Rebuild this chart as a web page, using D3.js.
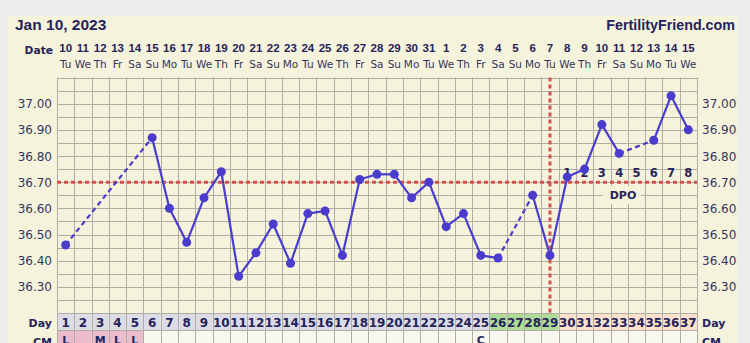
<!DOCTYPE html>
<html><head><meta charset="utf-8">
<script src="https://cdn.jsdelivr.net/npm/d3@7"></script>
<style>html,body{margin:0;padding:0;background:#ececec;}svg{display:block;}</style>
</head><body>
<svg id="c" width="750" height="343"></svg>
<script>
const cycleDays = d3.range(1, 38);
const dateLabels = ["10","11","12","13","14","15","16","17","18","19","20","21","22","23","24","25","26","27","28","29","30","31","1","2","3","4","5","6","7","8","9","10","11","12","13","14","15"];
const weekdayLabels = ["Tu","We","Th","Fr","Sa","Su","Mo","Tu","We","Th","Fr","Sa","Su","Mo","Tu","We","Th","Fr","Sa","Su","Mo","Tu","We","Th","Fr","Sa","Su","Mo","Tu","We","Th","Fr","Sa","Su","Mo","Tu","We"];
const temps = [36.46,null,null,null,null,36.87,36.60,36.47,36.64,36.74,36.34,36.43,36.54,36.39,36.58,36.59,36.42,36.71,36.73,36.73,36.64,36.70,36.53,36.58,36.42,36.41,null,36.65,36.42,36.72,36.75,36.92,36.81,null,36.86,37.03,36.90];
const phase = [].concat(d3.range(25).map(()=>"pre"), ["fert","fert","fert","fert"], d3.range(8).map(()=>"post"));
const cmLabels = ["L","","M","L","L","","","","","","","","","","","","","","","","","","","","C","","","","","","","","","","","",""];
const cmPink = [1,1,1,1,1];
const yTicks = [36.30,36.40,36.50,36.60,36.70,36.80,36.90,37.00];
const coverline = 36.70;
const ovulationDay = 29;
const dpoLabels = ["1","2","3","4","5","6","7","8"];
const titleText = "Jan 10, 2023";
const siteText = "FertilityFriend.com";

const svg = d3.select("#c");
const gridL = 57, gridR = 697, gridT = 77.5, gridB = 313;
const x = d3.scaleBand().domain(cycleDays).range([gridL, gridR]).padding(0);
const xc = d => x(d) + x.bandwidth()/2;
const y = d3.scaleLinear().domain([36.2, 37.1]).range([gridB, gridT]);
const navy = "#25235a";

// panel
svg.append("rect").attr("x",8).attr("y",16).attr("width",729).attr("height",340).attr("fill","#f6f3dc");

svg.append("text").attr("x",15).attr("y",30).text(titleText)
  .attr("font-family","Liberation Sans, Arial").attr("font-weight","bold").attr("font-size",15.5).attr("fill",navy);
svg.append("text").attr("x",735).attr("y",30).attr("text-anchor","end").text(siteText)
  .attr("font-family","Liberation Sans, Arial").attr("font-weight","bold").attr("font-size",14.3).attr("fill",navy);

svg.append("text").attr("x",53).attr("y",54).attr("text-anchor","end").text("Date")
  .attr("font-family","DejaVu Sans").attr("font-weight","bold").attr("font-size",10.7).attr("fill",navy);
svg.selectAll(".dl").data(cycleDays).enter().append("text")
  .attr("x",d=>xc(d)).attr("y",51.5).attr("text-anchor","middle").text((d,i)=>dateLabels[i])
  .attr("font-family","Liberation Sans, Arial").attr("font-weight","bold").attr("font-size",11.5).attr("fill",navy);
svg.selectAll(".wl").data(cycleDays).enter().append("text")
  .attr("x",d=>xc(d)).attr("y",68).attr("text-anchor","middle").text((d,i)=>weekdayLabels[i])
  .attr("font-family","DejaVu Sans").attr("font-size",10.5).attr("fill","#33335e");

// grid
const g = svg.append("g");
const hLines = d3.range(0, 19).map(i => 36.2 + i*0.05);
g.selectAll(".hl").data(hLines).enter().append("line")
  .attr("x1",gridL).attr("x2",gridR).attr("y1",d=>Math.round(y(d))+0.5).attr("y2",d=>Math.round(y(d))+0.5)
  .attr("stroke","#b0aea4").attr("stroke-width",1);
g.selectAll(".vl").data(cycleDays.concat([38])).enter().append("line")
  .attr("x1",d=>Math.round(d<=37? x(d): gridR)+0.5).attr("x2",d=>Math.round(d<=37? x(d): gridR)+0.5)
  .attr("y1",gridT).attr("y2",gridB+34)
  .attr("stroke","#b0aea4").attr("stroke-width",1);

// y labels
svg.selectAll(".yl").data(yTicks).enter().append("text")
  .attr("x",52).attr("y",d=>y(d)+4.5).attr("text-anchor","end").text(d=>d.toFixed(2))
  .attr("font-family","DejaVu Sans").attr("font-size",12).attr("fill","#33335e");
svg.selectAll(".yr").data(yTicks).enter().append("text")
  .attr("x",702).attr("y",d=>y(d)+4.5).attr("text-anchor","start").text(d=>d.toFixed(2))
  .attr("font-family","DejaVu Sans").attr("font-size",12).attr("fill","#33335e");

// day row
const phaseColor = {pre:"#dcdce6", fert:"#aedb95", post:"#fbe1cc"};
svg.selectAll(".dc").data(cycleDays).enter().append("rect")
  .attr("x",d=>x(d)).attr("y",gridB).attr("width",x.bandwidth()).attr("height",17)
  .attr("fill",(d,i)=>phaseColor[phase[i]]);
svg.selectAll(".cc").data(cycleDays).enter().append("rect")
  .attr("x",d=>x(d)).attr("y",gridB+17).attr("width",x.bandwidth()).attr("height",20)
  .attr("fill",(d,i)=>cmPink[i]?"#ebbccb":"#f9f8f0");
g.raise();
svg.append("line").attr("x1",gridL).attr("x2",gridR).attr("y1",gridB+17.5).attr("y2",gridB+17.5).attr("stroke","#b0aea4");
svg.selectAll(".dn").data(cycleDays).enter().append("text")
  .attr("x",d=>xc(d)).attr("y",gridB+13.5).attr("text-anchor","middle").text(d=>d)
  .attr("font-family","DejaVu Sans").attr("font-weight","bold").attr("font-size",12).attr("fill",navy);
svg.selectAll(".cm").data(cycleDays).enter().append("text")
  .attr("x",d=>xc(d)).attr("y",gridB+31).attr("text-anchor","middle").text((d,i)=>cmLabels[i])
  .attr("font-family","DejaVu Sans").attr("font-weight","bold").attr("font-size",11).attr("fill",navy);
svg.append("text").attr("x",52).attr("y",gridB+13.5).attr("text-anchor","end").text("Day")
  .attr("font-family","DejaVu Sans").attr("font-weight","bold").attr("font-size",11).attr("fill",navy);
svg.append("text").attr("x",702).attr("y",gridB+13.5).attr("text-anchor","start").text("Day")
  .attr("font-family","DejaVu Sans").attr("font-weight","bold").attr("font-size",11).attr("fill",navy);
svg.append("text").attr("x",52).attr("y",gridB+33).attr("text-anchor","end").text("CM")
  .attr("font-family","DejaVu Sans").attr("font-weight","bold").attr("font-size",11).attr("fill",navy);
svg.append("text").attr("x",702).attr("y",gridB+33).attr("text-anchor","start").text("CM")
  .attr("font-family","DejaVu Sans").attr("font-weight","bold").attr("font-size",11).attr("fill",navy);

// DPO box
svg.append("rect").attr("x",603).attr("y",186).attr("width",38).attr("height",18).attr("fill","#f6f3dc");
svg.append("text").attr("x",623).attr("y",199).attr("text-anchor","middle").text("DPO")
  .attr("font-family","DejaVu Sans").attr("font-weight","bold").attr("font-size",11).attr("fill",navy);

// red lines
const red = "#d2524f";
svg.append("line").attr("x1",gridL).attr("x2",gridR).attr("y1",y(coverline)).attr("y2",y(coverline))
  .attr("stroke",red).attr("stroke-width",3).attr("stroke-dasharray","4,3");
svg.append("line").attr("x1",xc(ovulationDay)).attr("x2",xc(ovulationDay)).attr("y1",gridT).attr("y2",gridB)
  .attr("stroke",red).attr("stroke-width",3).attr("stroke-dasharray","4,3");

// DPO numbers
svg.selectAll(".dpo").data(dpoLabels).enter().append("text")
  .attr("x",(d,i)=>xc(ovulationDay+1+i)).attr("y",177).attr("text-anchor","middle").text(d=>d)
  .attr("font-family","DejaVu Sans").attr("font-weight","bold").attr("font-size",11.5).attr("fill",navy);

// temperature lines
const pts = cycleDays.map((d,i)=>({d, t: temps[i]})).filter(p=>p.t!==null);
const lineCol = "#4a3ccc";
const segs = d3.pairs(pts);
svg.selectAll(".seg").data(segs).enter().append("line")
  .attr("x1",p=>xc(p[0].d)).attr("y1",p=>y(p[0].t)).attr("x2",p=>xc(p[1].d)).attr("y2",p=>y(p[1].t))
  .attr("stroke",lineCol).attr("stroke-width",2.2)
  .attr("stroke-dasharray",p=> p[1].d - p[0].d > 1 ? "5,3.5" : null);
svg.selectAll(".pt").data(pts).enter().append("circle")
  .attr("cx",p=>xc(p.d)).attr("cy",p=>y(p.t)).attr("r",4.5).attr("fill",lineCol);
</script>
</body></html>
